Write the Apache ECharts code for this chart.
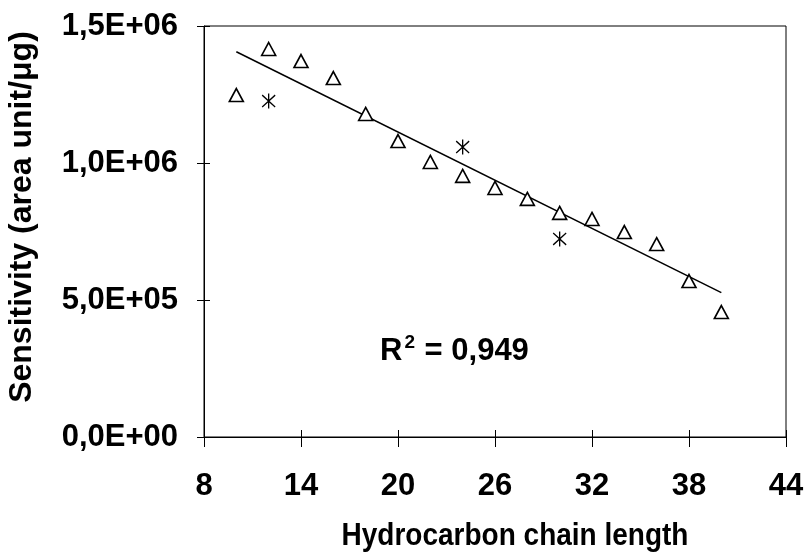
<!DOCTYPE html>
<html><head><meta charset="utf-8">
<script src="https://cdn.jsdelivr.net/npm/echarts@6/dist/echarts.min.js"></script>
<style>html,body{margin:0;padding:0;background:#fff}#c{width:810px;height:558px}</style>
</head><body><div id="c"></div>
<script>
// Chain length (x) and sensitivity (y), triangles series
const triX = [10, 12, 14, 16, 18, 20, 22, 24, 26, 28, 30, 32, 34, 36, 38, 40];
const triY = [1248000, 1416000, 1372000, 1310000, 1179000, 1080000, 1004000, 953000, 909000, 869000, 818000, 796000, 748000, 704000, 569000, 456000];
// Asterisk series
const starX = [12, 24, 30];
const starY = [1226000, 1058000, 723000];
// Trend line endpoints
const trendX = [10, 40];
const trendY = [1406000, 527000];
// Tick labels
const xTicks = [8, 14, 20, 26, 32, 38, 44];
const yTickLabels = ['0,0E+00', '5,0E+05', '1,0E+06', '1,5E+06'];
const r2Text = '0,949';
const xTitle = 'Hydrocarbon chain length';
const yTitle = 'Sensitivity (area unit/μg)';

const FONT = '"Liberation Sans", Arial, sans-serif';
const asterisk = 'path://M6,0 L6,14 M0,1.5 L12,12.5 M0,12.5 L12,1.5';

const tri = triX.map((x, i) => [x, triY[i]]);
const star = starX.map((x, i) => [x, starY[i]]);
const trend = trendX.map((x, i) => [x, trendY[i]]);

const chart = echarts.init(document.getElementById('c'), null, {renderer: 'canvas'});
const baseX = {
  type: 'value', min: xTicks[0], max: xTicks[xTicks.length - 1], interval: 6,
  splitLine: {show: false}
};
const baseY = {
  type: 'value', min: 0, max: 1500000, interval: 500000,
  splitLine: {show: false}
};
chart.setOption({
  backgroundColor: '#fff',
  animation: false,
  grid: {left: 204, top: 26, right: 24, bottom: 121, show: true, borderColor: '#000', borderWidth: 1},
  xAxis: [
    Object.assign({}, baseX, {
      position: 'bottom',
      axisLine: {show: true, lineStyle: {color: '#000', width: 1}},
      axisTick: {show: true, inside: false, length: 10, lineStyle: {color: '#000'}},
      axisLabel: {margin: 34, color: '#000', fontFamily: FONT, fontWeight: 'bold', fontSize: 31}
    }),
    Object.assign({}, baseX, {
      position: 'bottom',
      axisLine: {show: false},
      axisTick: {show: true, inside: true, length: 7, lineStyle: {color: '#000'}},
      axisLabel: {show: false}
    })
  ],
  yAxis: [
    Object.assign({}, baseY, {
      position: 'left',
      axisLine: {show: true, lineStyle: {color: '#000', width: 1}},
      axisTick: {show: true, inside: false, length: 7, lineStyle: {color: '#000'}},
      axisLabel: {margin: 26, color: '#000', fontFamily: FONT, fontWeight: 'bold', fontSize: 31,
        formatter: v => yTickLabels[Math.round(v / 500000)]}
    }),
    Object.assign({}, baseY, {
      position: 'left',
      axisLine: {show: false},
      axisTick: {show: true, inside: true, length: 6, lineStyle: {color: '#000'}},
      axisLabel: {show: false}
    })
  ],
  graphic: [
    {type: 'text', x: 515, y: 536, scaleY: 1.15,
     style: {text: xTitle, fill: '#000', font: 'bold 28px ' + FONT,
       textAlign: 'center', textVerticalAlign: 'middle'}},
    {type: 'text', x: 22, y: 217, rotation: Math.PI / 2,
     style: {text: yTitle, fill: '#000', font: 'bold 32px ' + FONT,
       textAlign: 'center', textVerticalAlign: 'middle'}},
    {type: 'text', x: 380, y: 351,
     style: {text: '{a|R}{b|2}{a| = ' + r2Text + '}', textVerticalAlign: 'middle',
       rich: {a: {fontFamily: FONT, fontWeight: 'bold', fontSize: 31, color: '#000'},
              b: {fontFamily: FONT, fontWeight: 'bold', fontSize: 19, color: '#000', verticalAlign: 'top', padding: [0, 1, 16, 2]}}}}
  ],
  series: [
    {type: 'line', data: trend, symbol: 'none', lineStyle: {color: '#000', width: 1.5}, z: 2, silent: true},
    {type: 'scatter', data: tri, symbol: 'triangle', symbolSize: [14, 13],
     itemStyle: {color: '#fff', borderColor: '#000', borderWidth: 1.6, opacity: 1}, z: 3},
    {type: 'scatter', data: star, symbol: asterisk, symbolSize: [13, 15],
     itemStyle: {color: 'transparent', borderColor: '#000', borderWidth: 1.4, opacity: 1}, z: 3}
  ]
});
</script></body></html>
